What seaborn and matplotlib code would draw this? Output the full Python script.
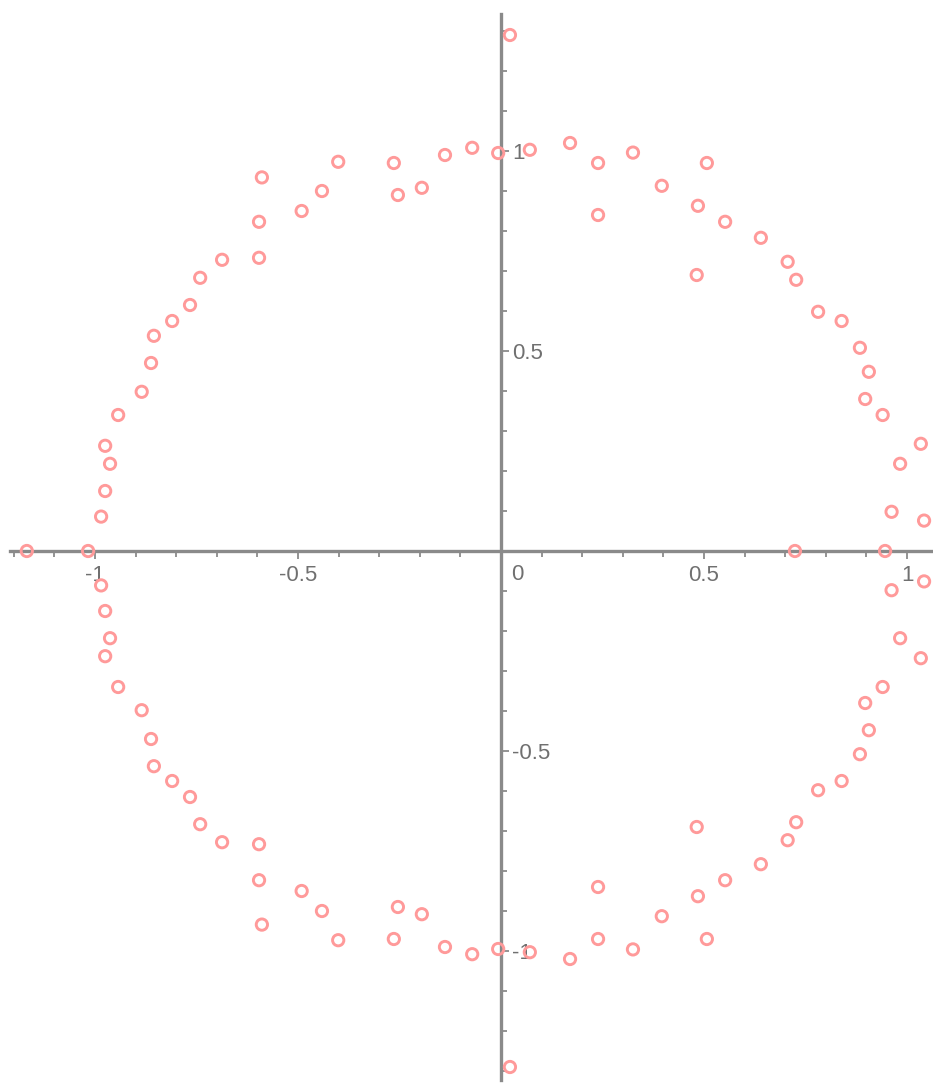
import matplotlib
matplotlib.use("Agg")
import matplotlib.pyplot as plt
from matplotlib.ticker import MultipleLocator, FixedLocator
import seaborn as sns
import pandas as pd

# Roots in the upper half-plane (real part, imaginary part)
upper_re = [0.022, -0.589, -0.401, -0.264, -0.138, -0.071, -0.007, 0.071, 0.170, 0.239,
            0.325, 0.507, -0.441, -0.254, -0.195, -0.491, -0.596, -0.596, -0.687, -0.741,
            -0.766, -0.810, -0.855, -0.862, -0.885, -0.943, -0.975, -0.963, -0.975, -0.985,
            0.396, 0.485, 0.239, 0.552, 0.640, 0.482, 0.706, 0.727, 0.781, 0.839,
            0.884, 0.906, 0.897, 0.940, 1.034, 0.983, 0.962, 1.042]
upper_im = [1.290, 0.934, 0.973, 0.970, 0.990, 1.008, 0.995, 1.003, 1.020, 0.970,
            0.996, 0.970, 0.900, 0.890, 0.908, 0.850, 0.823, 0.733, 0.728, 0.683,
            0.615, 0.575, 0.538, 0.470, 0.398, 0.340, 0.263, 0.218, 0.150, 0.086,
            0.913, 0.863, 0.840, 0.823, 0.783, 0.690, 0.723, 0.678, 0.598, 0.575,
            0.508, 0.448, 0.380, 0.340, 0.268, 0.218, 0.098, 0.076]

# Roots in the lower half-plane
lower_re = [0.022, -0.589, -0.401, -0.264, -0.138, -0.071, -0.007, 0.071, 0.170, 0.239,
            0.325, 0.507, -0.441, -0.254, -0.195, -0.491, -0.596, -0.596, -0.687, -0.741,
            -0.766, -0.810, -0.855, -0.862, -0.885, -0.943, -0.975, -0.963, -0.975, -0.985,
            0.396, 0.485, 0.239, 0.552, 0.640, 0.482, 0.706, 0.727, 0.781, 0.839,
            0.884, 0.906, 0.897, 0.940, 1.034, 0.983, 0.962, 1.042]
lower_im = [-1.290, -0.934, -0.973, -0.970, -0.990, -1.008, -0.995, -1.003, -1.020, -0.970,
            -0.996, -0.970, -0.900, -0.890, -0.908, -0.850, -0.823, -0.733, -0.728, -0.683,
            -0.615, -0.575, -0.538, -0.470, -0.398, -0.340, -0.263, -0.218, -0.150, -0.086,
            -0.913, -0.863, -0.840, -0.823, -0.783, -0.690, -0.723, -0.678, -0.598, -0.575,
            -0.508, -0.448, -0.380, -0.340, -0.268, -0.218, -0.098, -0.076]

# Real roots
real_re = [-1.168, -1.017, 0.724, 0.946]
real_im = [0.0, 0.0, 0.0, 0.0]

x_ticks = [-1, -0.5, 0.5, 1]
x_tick_labels = ["-1", "-0.5", "0.5", "1"]
y_ticks = [-1, -0.5, 0.5, 1]
y_tick_labels = ["-1", "-0.5", "0.5", "1"]
origin_label = "0"

df = pd.DataFrame({
    "re": upper_re + lower_re + real_re,
    "im": upper_im + lower_im + real_im,
})

sns.set_theme(style="white")
plt.rcParams["font.family"] = ["Liberation Sans", "DejaVu Sans"]

AXIS_COLOR = "#8a8a8a"
TEXT_COLOR = "#707070"
MARK_COLOR = "#ff9a9a"

W, H = 933, 1084
fig = plt.figure(figsize=(W / 100, H / 100), dpi=100)
fig.patch.set_facecolor("white")
ax = fig.add_axes([10 / W, 4 / H, (W - 10) / W, (1080 - 14) / H])
ax.set_facecolor("white")

sns.scatterplot(data=df, x="re", y="im", ax=ax, marker="o", s=66,
                facecolor="none", edgecolor=MARK_COLOR, linewidth=2.1,
                zorder=3, clip_on=False, legend=False)

ax.set_xlim(-1.2094, 1.0640)
ax.set_ylim(-1.3225, 1.3425)
ax.set_xlabel("")
ax.set_ylabel("")

# Axes crossing at the origin
for side in ("top", "left"):
    ax.spines[side].set_visible(False)
ax.spines["bottom"].set_position("zero")
ax.spines["right"].set_position("zero")
for side in ("bottom", "right"):
    ax.spines[side].set_color(AXIS_COLOR)
    ax.spines[side].set_linewidth(2.4)
    ax.spines[side].set_zorder(2)

ax.xaxis.set_major_locator(FixedLocator(x_ticks))
ax.set_xticklabels(x_tick_labels)
ax.xaxis.set_minor_locator(MultipleLocator(0.1))
ax.yaxis.tick_right()
ax.yaxis.set_major_locator(FixedLocator(y_ticks))
ax.set_yticklabels(y_tick_labels)
ax.yaxis.set_minor_locator(MultipleLocator(0.1))

ax.tick_params(axis="x", which="both", direction="out", bottom=True, top=False,
               color=AXIS_COLOR, width=1.3, labelcolor=TEXT_COLOR, labelsize=16, pad=4)
ax.tick_params(axis="y", which="both", direction="out", right=True, left=False,
               labelright=True, labelleft=False, color=AXIS_COLOR, width=1.3,
               labelcolor=TEXT_COLOR, labelsize=16, pad=2)
ax.tick_params(which="major", length=6)
ax.tick_params(which="minor", length=4)

ax.annotate(origin_label, xy=(0, 0), xytext=(12, -9), textcoords="offset points",
            ha="center", va="top", color=TEXT_COLOR, fontsize=16)

fig.savefig("out.png", dpi=100, facecolor="white")
